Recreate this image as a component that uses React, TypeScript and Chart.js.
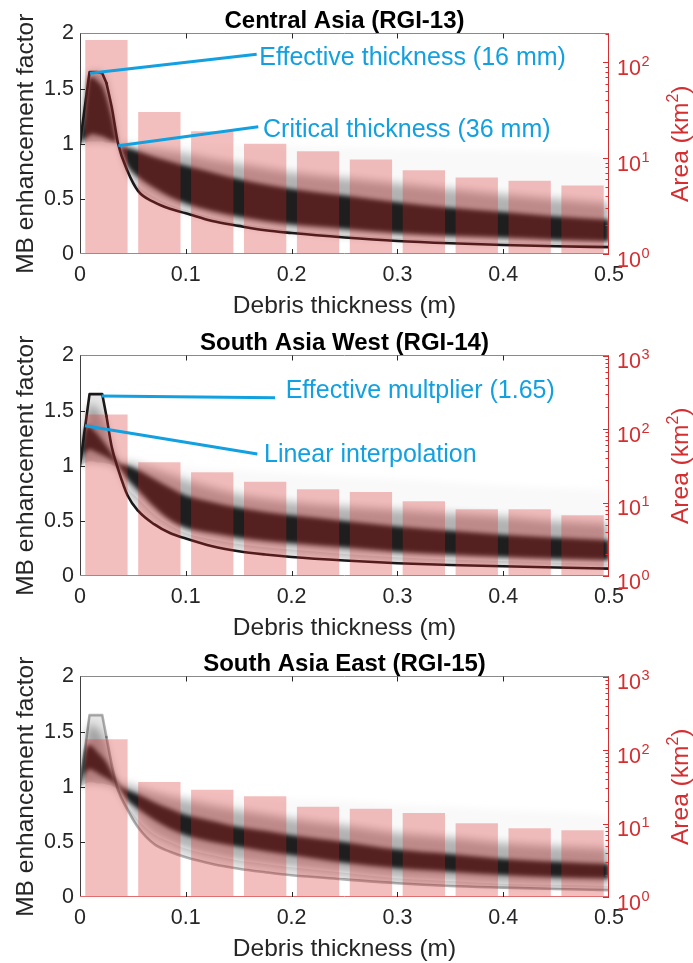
import React, { useEffect, useRef } from 'react';
import { Chart, registerables } from 'chart.js';

// ---------------- data ----------------
// debris thickness grid (m) for the enhancement-factor curves
const thickness = [0, 0.004, 0.009, 0.012, 0.016, 0.021, 0.025, 0.03, 0.036, 0.045, 0.055, 0.07, 0.085, 0.1, 0.125, 0.15, 0.175, 0.2, 0.25, 0.3, 0.35, 0.4, 0.45, 0.5];

// area histogram bins (bin centres, m)
const binCenters = [0.025, 0.075, 0.125, 0.175, 0.225, 0.275, 0.325, 0.375, 0.425, 0.475];

const xTickValues = [0, 0.1, 0.2, 0.3, 0.4, 0.5];
const yTickValues = [0, 0.5, 1, 1.5, 2];

// ---- Central Asia (RGI-13)
const caArea = [171, 30.4, 19.1, 14.1, 11.8, 9.7, 7.5, 6.3, 5.8, 5.2];
const caAreaExponents = [0, 1, 2];
const caEdge = [1.0, 1.29, 1.65, 1.65, 1.65, 1.64, 1.55, 1.33, 1.0, 0.75, 0.57, 0.47, 0.41, 0.37, 0.3, 0.255, 0.215, 0.19, 0.15, 0.118, 0.097, 0.082, 0.07, 0.062];
const caCoreTop = [1.0, 1.26, 1.6, 1.6, 1.57, 1.52, 1.42, 1.24, 1.0, 0.96, 0.93, 0.88, 0.84, 0.8, 0.74, 0.68, 0.63, 0.59, 0.53, 0.47, 0.42, 0.38, 0.34, 0.31];
const caCoreBottom = [1.0, 1.04, 1.08, 1.09, 1.08, 1.07, 1.05, 1.03, 1.0, 0.8, 0.7, 0.6, 0.52, 0.46, 0.39, 0.34, 0.3, 0.27, 0.23, 0.19, 0.165, 0.15, 0.13, 0.115];
const caOuterTop = [1.0, 1.29, 1.65, 1.65, 1.65, 1.64, 1.55, 1.33, 1.0, 0.99, 0.97, 0.95, 0.93, 0.91, 0.86, 0.82, 0.78, 0.74, 0.69, 0.64, 0.59, 0.54, 0.5, 0.46];
const caOuterBottom = [1.0, 1.01, 1.02, 1.02, 1.02, 1.02, 1.01, 1.01, 1.0, 0.76, 0.62, 0.52, 0.45, 0.4, 0.33, 0.28, 0.245, 0.215, 0.175, 0.145, 0.125, 0.11, 0.098, 0.088];
const caFaintTop = [1.0, 1.29, 1.65, 1.65, 1.65, 1.64, 1.55, 1.33, 1.0, 1.0, 1.0, 1.0, 1.0, 1.0, 0.99, 0.99, 0.98, 0.98, 0.97, 0.96, 0.95, 0.94, 0.93, 0.92];

// ---- South Asia West (RGI-14)
const swArea = [157, 35.2, 25.8, 19.2, 15.1, 13.9, 10.4, 8.1, 8.1, 6.7];
const swAreaExponents = [0, 1, 2, 3];
const swEdge = [1.0, 1.29, 1.65, 1.65, 1.65, 1.65, 1.45, 1.17, 0.97, 0.73, 0.59, 0.47, 0.39, 0.34, 0.27, 0.225, 0.195, 0.172, 0.14, 0.116, 0.1, 0.088, 0.077, 0.067];
const swCoreTop = [1.0, 1.3, 1.36, 1.33, 1.29, 1.23, 1.18, 1.11, 1.03, 1.0, 0.96, 0.88, 0.8, 0.73, 0.67, 0.62, 0.58, 0.55, 0.5, 0.45, 0.41, 0.375, 0.348, 0.325];
const swCoreBottom = [1.0, 1.1, 1.15, 1.14, 1.12, 1.1, 1.08, 1.05, 1.0, 0.88, 0.78, 0.63, 0.51, 0.44, 0.39, 0.35, 0.32, 0.3, 0.26, 0.22, 0.195, 0.175, 0.158, 0.145];
const swOuterTop = [1.0, 1.29, 1.55, 1.55, 1.52, 1.45, 1.35, 1.18, 1.04, 1.03, 1.01, 0.97, 0.92, 0.87, 0.8, 0.74, 0.7, 0.67, 0.63, 0.6, 0.57, 0.54, 0.5, 0.475];
const swOuterBottom = [1.0, 1.02, 1.04, 1.04, 1.03, 1.03, 1.02, 1.01, 0.97, 0.8, 0.7, 0.56, 0.46, 0.39, 0.33, 0.29, 0.26, 0.24, 0.2, 0.17, 0.15, 0.135, 0.12, 0.11];
const swFaintTop = [1.0, 1.29, 1.55, 1.55, 1.52, 1.45, 1.35, 1.18, 1.04, 1.03, 1.02, 1.01, 1.0, 0.99, 0.97, 0.96, 0.94, 0.93, 0.9, 0.88, 0.85, 0.82, 0.8, 0.78];

// ---- South Asia East (RGI-15)
const seArea = [140, 36.7, 28.8, 23.4, 16.9, 15.9, 13.9, 10.1, 8.6, 8.1];
const seAreaExponents = [0, 1, 2, 3];
const seEdge = [1.0, 1.29, 1.65, 1.65, 1.65, 1.65, 1.45, 1.2, 0.97, 0.79, 0.63, 0.48, 0.41, 0.36, 0.3, 0.257, 0.225, 0.197, 0.16, 0.125, 0.1, 0.085, 0.072, 0.062];
const seCoreTop = [1.0, 1.28, 1.38, 1.36, 1.32, 1.27, 1.22, 1.13, 1.03, 0.97, 0.93, 0.86, 0.8, 0.745, 0.69, 0.635, 0.6, 0.56, 0.5, 0.43, 0.39, 0.345, 0.32, 0.3];
const seCoreBottom = [1.0, 1.1, 1.16, 1.15, 1.13, 1.1, 1.08, 1.05, 1.0, 0.88, 0.8, 0.7, 0.62, 0.56, 0.5, 0.455, 0.415, 0.38, 0.31, 0.26, 0.23, 0.2, 0.18, 0.167];
const seOuterTop = [1.0, 1.29, 1.56, 1.56, 1.53, 1.47, 1.36, 1.19, 1.04, 1.02, 0.99, 0.95, 0.91, 0.88, 0.83, 0.79, 0.75, 0.71, 0.65, 0.58, 0.54, 0.49, 0.46, 0.44];
const seOuterBottom = [1.0, 1.02, 1.04, 1.04, 1.03, 1.03, 1.02, 1.01, 0.97, 0.83, 0.7, 0.57, 0.5, 0.44, 0.38, 0.33, 0.3, 0.27, 0.22, 0.17, 0.145, 0.12, 0.11, 0.1];
const seFaintTop = [1.0, 1.29, 1.56, 1.56, 1.53, 1.47, 1.36, 1.19, 1.04, 1.0, 0.99, 0.97, 0.96, 0.94, 0.93, 0.91, 0.9, 0.89, 0.87, 0.84, 0.82, 0.79, 0.77, 0.74];

// annotations (data coordinates: line from -> to, text baseline-left)
const caNotes = [
  { from: [0.00945, 1.639], to: [0.167, 1.811], at: [0.1695, 1.714], text: 'Effective thickness (16 mm)' },
  { from: [0.0362, 0.982], to: [0.1685, 1.155], at: [0.173, 1.064], text: 'Critical thickness (36 mm)' },
];
const swNotes = [
  { from: [0.0205, 1.633], to: [0.1843, 1.617], at: [0.1944, 1.612], text: 'Effective multplier (1.65)' },
  { from: [0.0047, 1.363], to: [0.1676, 1.107], at: [0.1739, 1.037], text: 'Linear interpolation' },
];
const seNotes: typeof caNotes = [];

// ---------------- styles ----------------
const FONT = '"Liberation Sans", Arial, Helvetica, sans-serif';
const AXIS = '#262626';
const RED = 'rgb(212,46,48)';
const BLUE = 'rgb(18,160,224)';
const BAR = 'rgba(214,39,40,0.3)';
const CORE = 'rgb(30,30,30)';

const bandBlur = {
  id: 'bandBlur',
  beforeDatasetDraw(chart: any, args: any) {
    const ds = chart.data.datasets[args.index];
    if (ds && ds.blurPx) chart.ctx.filter = `blur(${ds.blurPx}px)`;
  },
  afterDatasetDraw(chart: any) {
    chart.ctx.filter = 'none';
  },
};
Chart.register(bandBlur as any);
Chart.register(...registerables);

type Panel = {
  title: string;
  area: number[];
  areaMax: number;
  exps: number[];
  edge: number[];
  coreTop: number[];
  coreBottom: number[];
  outerTop: number[];
  outerBottom: number[];
  faintTop: number[];
  edgeColor: string;
  notes: typeof caNotes;
};

const panels: Panel[] = [
  { title: 'Central Asia (RGI-13)', area: caArea, areaMax: 200, exps: caAreaExponents, edge: caEdge, coreTop: caCoreTop, coreBottom: caCoreBottom, outerTop: caOuterTop, outerBottom: caOuterBottom, faintTop: caFaintTop, edgeColor: 'rgb(28,24,24)', notes: caNotes },
  { title: 'South Asia West (RGI-14)', area: swArea, areaMax: 1000, exps: swAreaExponents, edge: swEdge, coreTop: swCoreTop, coreBottom: swCoreBottom, outerTop: swOuterTop, outerBottom: swOuterBottom, faintTop: swFaintTop, edgeColor: 'rgb(28,24,24)', notes: swNotes },
  { title: 'South Asia East (RGI-15)', area: seArea, areaMax: 1000, exps: seAreaExponents, edge: seEdge, coreTop: seCoreTop, coreBottom: seCoreBottom, outerTop: seOuterTop, outerBottom: seOuterBottom, faintTop: seFaintTop, edgeColor: 'rgba(0,0,0,0.3)', notes: seNotes },
];

const CANVAS_H = 320;
const PANEL_TOPS = [0, 322, 643];

function PanelChart({ panel, top }: { panel: Panel; top: number }) {
  const ref = useRef<HTMLCanvasElement>(null);
  useEffect(() => {
    const canvas = ref.current;
    if (!canvas) return;
    const pts = (arr: number[]) => thickness.map((x, i) => ({ x, y: arr[i] }));
    const ptsRange = (arr: number[], from: number, to: number) =>
      thickness.slice(from, to + 1).map((x, k) => ({ x, y: arr[from + k] }));
    const hidden = { pointRadius: 0, borderWidth: 0, borderColor: 'rgba(0,0,0,0)', yAxisID: 'y', xAxisID: 'x', cubicInterpolationMode: 'monotone' as const };

    const decor = {
      id: 'decor',
      afterDraw(chart: any) {
        const { ctx, chartArea: a, scales } = chart;
        const xs = scales.x, ys = scales.y, y2 = scales.y2;
        ctx.save();
        ctx.filter = 'none';
        const seg = (x1: number, y1: number, x2: number, y2c: number, color: string, w = 1) => {
          ctx.strokeStyle = color;
          ctx.lineWidth = w;
          ctx.beginPath();
          ctx.moveTo(x1, y1);
          ctx.lineTo(x2, y2c);
          ctx.stroke();
        };
        // box
        seg(a.left, a.top, a.right, a.top, '#8a8a8a');
        seg(a.left + 0.5, a.top, a.left + 0.5, a.bottom, '#404040');
        seg(a.left, a.bottom - 0.5, a.right, a.bottom - 0.5, 'rgb(224,110,110)');
        seg(a.right - 0.5, a.top, a.right - 0.5, a.bottom, RED);
        // x ticks (inward, top & bottom)
        xTickValues.slice(1, -1).forEach((v) => {
          const px = Math.round(xs.getPixelForValue(v)) + 0.5;
          seg(px, a.top, px, a.top + 5, AXIS);
          seg(px, a.bottom, px, a.bottom - 5, AXIS);
        });
        // left y ticks
        yTickValues.slice(1, -1).forEach((v) => {
          const py = Math.round(ys.getPixelForValue(v)) + 0.5;
          seg(a.left, py, a.left + 5, py, AXIS);
        });
        // right log ticks
        panel.exps.forEach((e) => {
          for (let k = 1; k <= 9; k++) {
            const v = k * Math.pow(10, e);
            if (v > panel.areaMax + 1e-9) break;
            const py = Math.round(y2.getPixelForValue(v)) + 0.5;
            const len = k === 1 ? 6 : 3.5;
            seg(a.right - len, py, a.right, py, RED);
          }
        });
        // right tick labels 10^e
        ctx.fillStyle = RED;
        ctx.textAlign = 'left';
        ctx.textBaseline = 'alphabetic';
        panel.exps.forEach((e) => {
          const py = y2.getPixelForValue(Math.pow(10, e));
          const base = py + 12.5;
          ctx.font = `21.5px ${FONT}`;
          ctx.fillText('10', a.right + 8, base);
          const w = ctx.measureText('10').width;
          ctx.font = `14.5px ${FONT}`;
          ctx.fillText(String(e), a.right + 8 + w + 0.5, base - 9);
        });
        // right axis title (rotated, bottom-to-top)
        {
          const cy = (a.top + a.bottom) / 2;
          ctx.save();
          ctx.translate(688, cy);
          ctx.rotate(-Math.PI / 2);
          ctx.fillStyle = RED;
          ctx.font = `24.5px ${FONT}`;
          const w1 = ctx.measureText('Area (km').width;
          ctx.font = `16px ${FONT}`;
          const w2 = ctx.measureText('2').width;
          ctx.font = `24.5px ${FONT}`;
          const w3 = ctx.measureText(')').width;
          const start = -(w1 + w2 + w3) / 2;
          ctx.textAlign = 'left';
          ctx.fillText('Area (km', start, 0);
          ctx.font = `16px ${FONT}`;
          ctx.fillText('2', start + w1, -10);
          ctx.font = `24.5px ${FONT}`;
          ctx.fillText(')', start + w1 + w2, 0);
          ctx.restore();
        }
        // left axis title
        {
          const cy = (a.top + a.bottom) / 2;
          ctx.save();
          ctx.translate(33, cy);
          ctx.rotate(-Math.PI / 2);
          ctx.fillStyle = AXIS;
          ctx.font = `24.5px ${FONT}`;
          ctx.textAlign = 'center';
          ctx.textBaseline = 'alphabetic';
          ctx.fillText('MB enhancement factor', 0, 0);
          ctx.restore();
        }
        // x axis title
        ctx.fillStyle = AXIS;
        ctx.font = `24.5px ${FONT}`;
        ctx.textAlign = 'center';
        ctx.textBaseline = 'alphabetic';
        ctx.fillText('Debris thickness (m)', (a.left + a.right) / 2, a.bottom + 58.5);
        // panel title
        ctx.fillStyle = '#000';
        ctx.font = `bold 24px ${FONT}`;
        ctx.fillText(panel.title, (a.left + a.right) / 2, a.top - 6);
        // annotations
        panel.notes.forEach((n) => {
          seg(xs.getPixelForValue(n.from[0]), ys.getPixelForValue(n.from[1]), xs.getPixelForValue(n.to[0]), ys.getPixelForValue(n.to[1]), BLUE, 3);
          ctx.fillStyle = BLUE;
          ctx.font = `25px ${FONT}`;
          ctx.textAlign = 'left';
          ctx.textBaseline = 'alphabetic';
          ctx.fillText(n.text, xs.getPixelForValue(n.at[0]), ys.getPixelForValue(n.at[1]));
        });
        ctx.restore();
      },
    };

    const chart = new Chart(canvas, {
      type: 'line',
      data: {
        datasets: [
          // 0 bars (on top)
          {
            type: 'bar',
            data: binCenters.map((x, i) => ({ x, y: panel.area[i] })),
            backgroundColor: BAR,
            borderWidth: 0,
            barPercentage: 1,
            categoryPercentage: 0.8,
            yAxisID: 'y2',
            xAxisID: 'x',
            order: 0,
          } as any,
          // 1 edge curve, rising part (straight)
          { type: 'line', data: ptsRange(panel.edge, 0, 6), borderColor: panel.edgeColor, borderWidth: 2.6, pointRadius: 0, tension: 0, fill: false, yAxisID: 'y', xAxisID: 'x', order: 1, borderJoinStyle: 'round', borderCapStyle: 'round' } as any,
          // 2 edge curve, decaying part
          { type: 'line', data: ptsRange(panel.edge, 6, thickness.length - 1), borderColor: panel.edgeColor, borderWidth: 2.6, pointRadius: 0, cubicInterpolationMode: 'monotone', fill: false, yAxisID: 'y', xAxisID: 'x', order: 1, borderJoinStyle: 'round', borderCapStyle: 'round' } as any,
          // 3 core top -> core bottom
          { type: 'line', ...hidden, data: pts(panel.coreTop), fill: 4, backgroundColor: CORE, order: 2, blurPx: 2 } as any,
          // 4 core bottom
          { type: 'line', ...hidden, data: pts(panel.coreBottom), fill: false, order: 3 } as any,
          // 5 outer top -> outer bottom
          { type: 'line', ...hidden, data: pts(panel.outerTop), fill: 6, backgroundColor: 'rgba(0,0,0,0.3)', order: 4, blurPx: 4 } as any,
          // 6 outer bottom
          { type: 'line', ...hidden, data: pts(panel.outerBottom), fill: false, order: 5 } as any,
          // 7 faint top -> outer top
          { type: 'line', ...hidden, data: pts(panel.faintTop), fill: 5, backgroundColor: 'rgba(0,0,0,0.022)', order: 6, blurPx: 3 } as any,
          // 8 edge envelope -> outer bottom
          { type: 'line', ...hidden, data: pts(panel.edge), fill: 6, backgroundColor: 'rgba(0,0,0,0.1)', order: 7 } as any,
        ],
      },
      options: {
        responsive: false,
        animation: false,
        devicePixelRatio: 1,
        events: [],
        layout: { padding: { top: 33.5, left: 0, right: 0, bottom: 0 } },
        plugins: { legend: { display: false }, tooltip: { enabled: false }, title: { display: false } },
        scales: {
          x: {
            type: 'linear',
            min: 0,
            max: 0.5,
            offset: false,
            grid: { display: false, drawTicks: false },
            border: { display: false },
            afterBuildTicks: (s: any) => { s.ticks = xTickValues.map((v) => ({ value: v })); },
            ticks: {
              font: { family: FONT, size: 21.5 },
              color: AXIS,
              padding: 8,
              maxRotation: 0,
              autoSkip: false,
              callback: (v: any) => String(Math.round(Number(v) * 10) / 10),
            },
            afterFit: (s: any) => { s.height = CANVAS_H - 254; },
          },
          y: {
            type: 'linear',
            position: 'left',
            min: 0,
            max: 2,
            grid: { display: false, drawTicks: false },
            border: { display: false },
            afterBuildTicks: (s: any) => { s.ticks = yTickValues.map((v) => ({ value: v })); },
            ticks: {
              font: { family: FONT, size: 21.5 },
              color: AXIS,
              padding: 6,
              callback: (v: any) => String(v),
            },
            afterFit: (s: any) => { s.width = 80; },
          },
          y2: {
            type: 'logarithmic',
            position: 'right',
            min: 1,
            max: panel.areaMax,
            grid: { display: false, drawTicks: false },
            border: { display: false },
            ticks: { display: false },
            afterFit: (s: any) => { s.width = 84; },
          },
        },
      } as any,
      plugins: [decor as any],
    });
    return () => chart.destroy();
  }, [panel]);
  return (
    <canvas
      ref={ref}
      width={693}
      height={CANVAS_H}
      style={{ position: 'absolute', left: 0, top, width: 693, height: CANVAS_H }}
    />
  );
}

export default function App() {
  return (
    <div style={{ position: 'fixed', left: 0, top: 0, width: 693, height: 963, overflow: 'hidden', background: '#fff' }}>
      {panels.map((p, i) => (
        <PanelChart key={p.title} panel={p} top={PANEL_TOPS[i]} />
      ))}
    </div>
  );
}
